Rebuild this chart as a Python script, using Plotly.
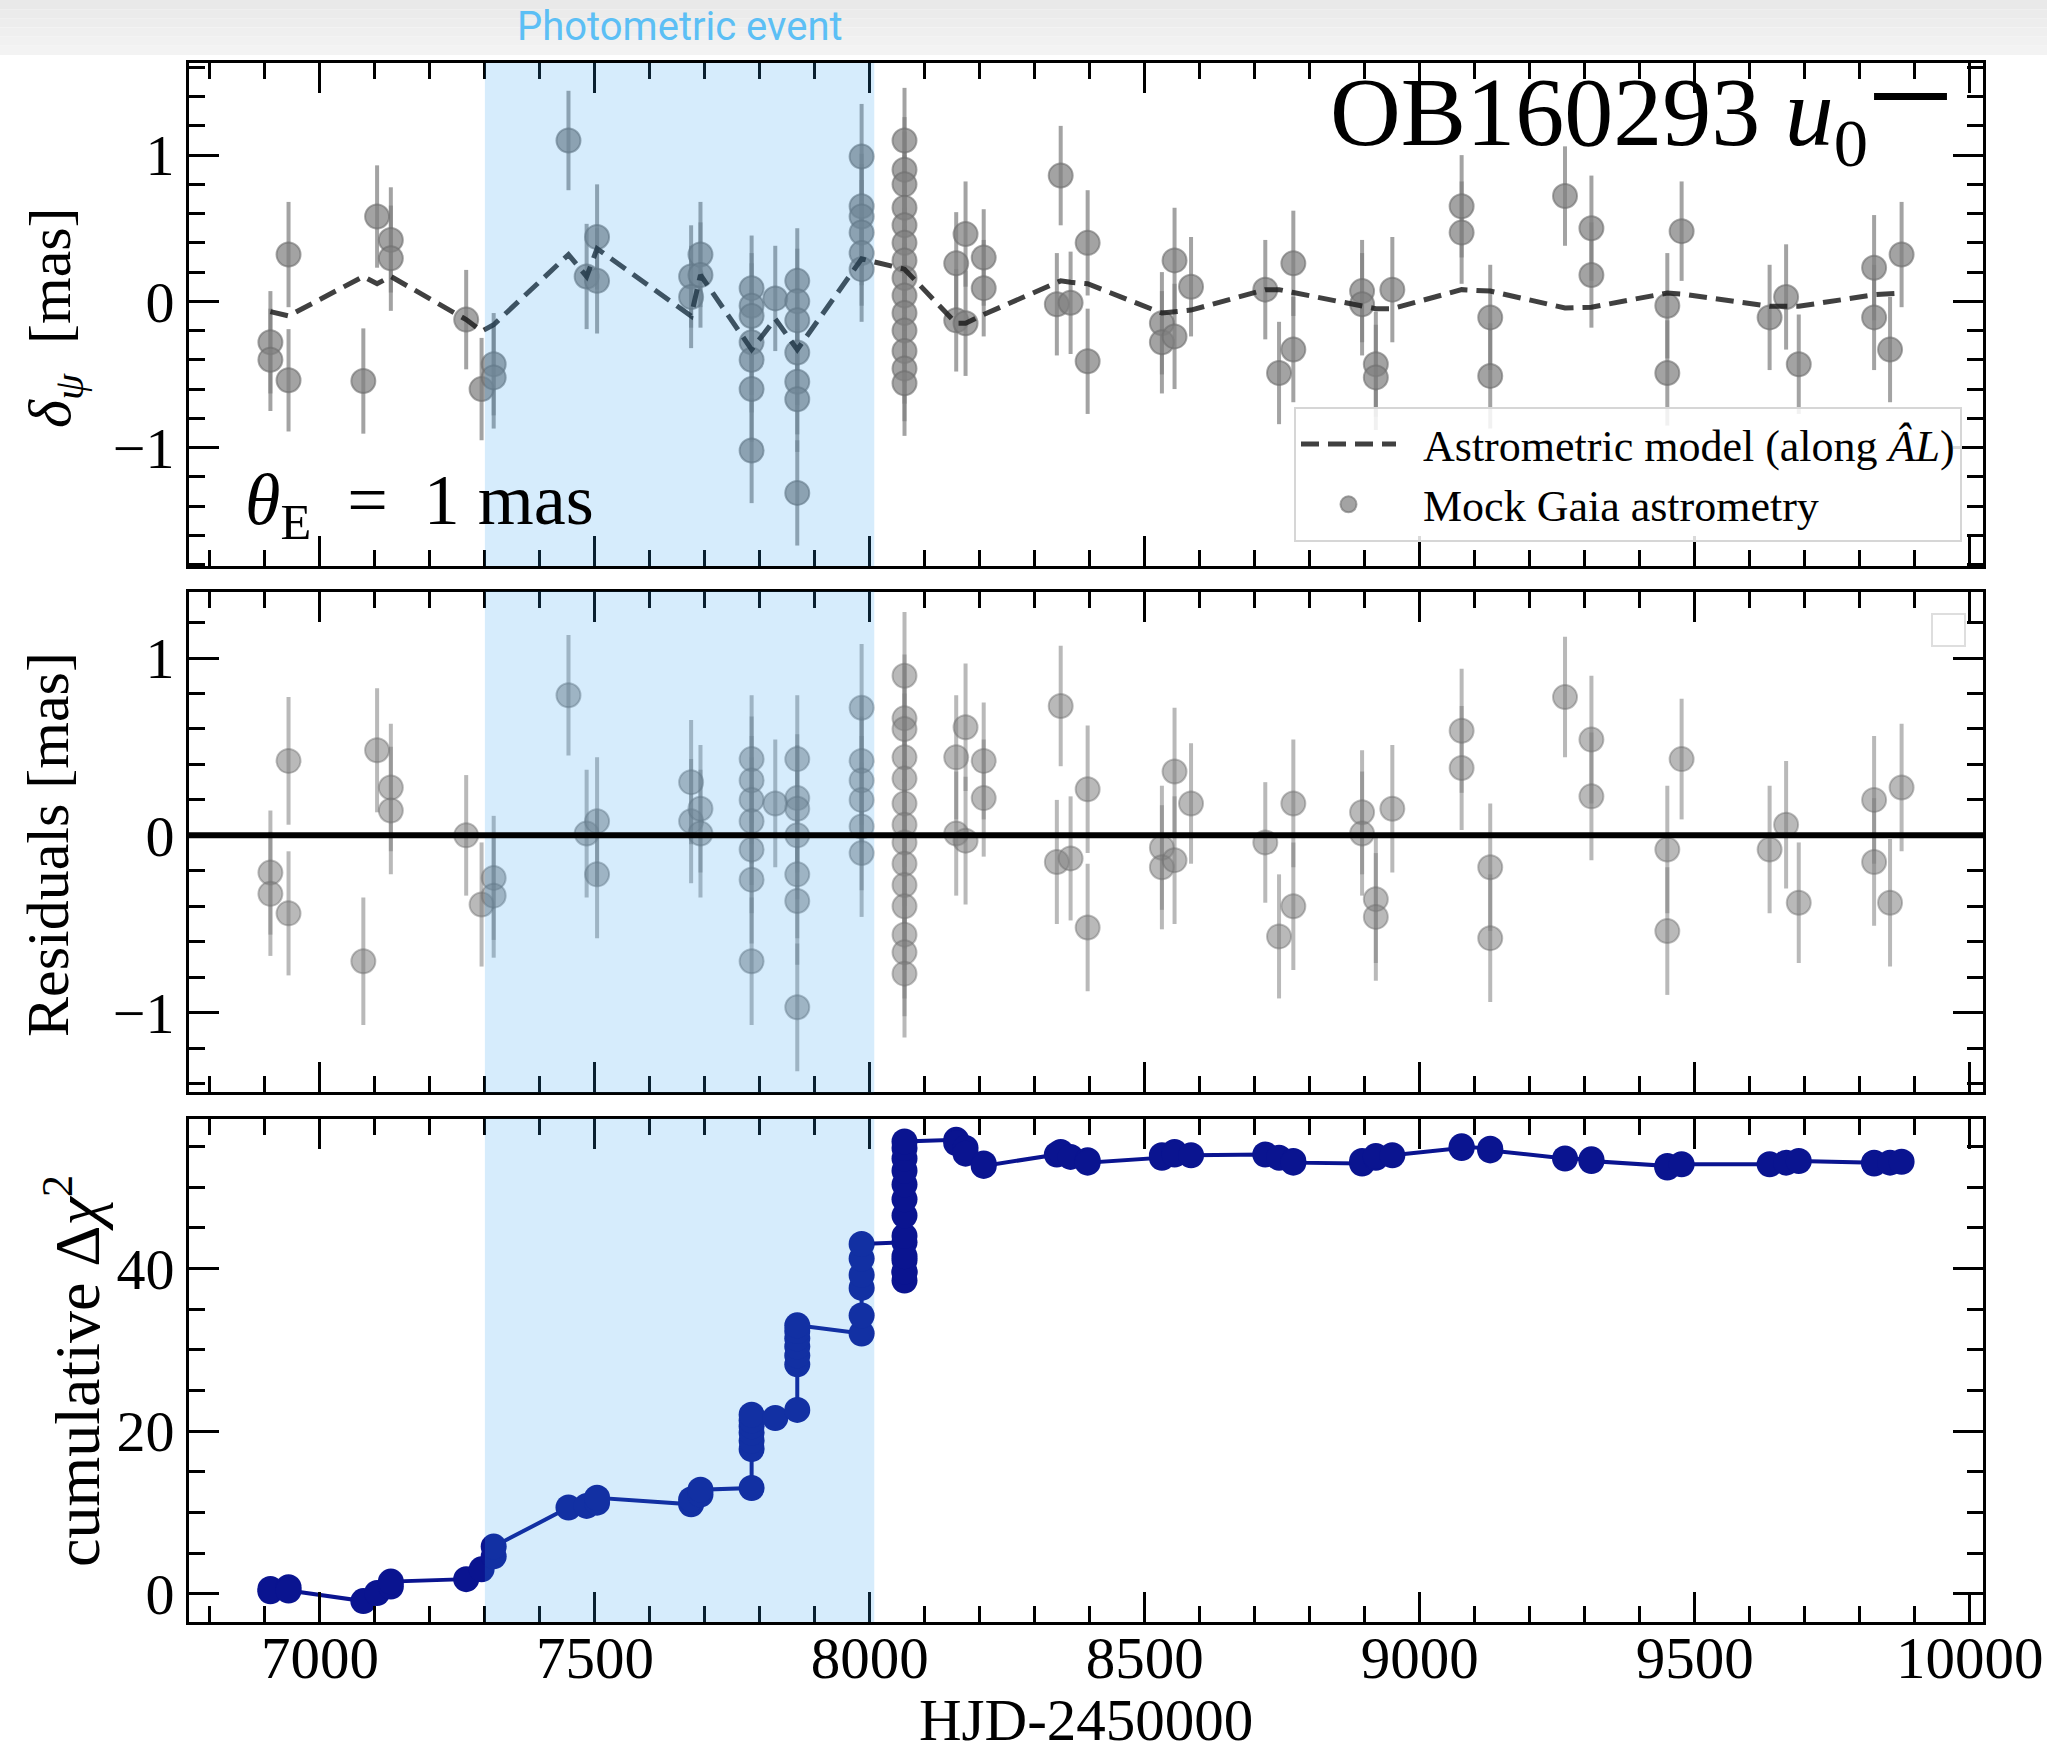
import plotly.graph_objects as go

# ---------------- data ----------------
t_obs = [6910, 6910, 6943, 6943, 7079, 7104, 7129, 7129, 7266, 7294, 7316, 7316,
         7452, 7485, 7504, 7504, 7675, 7675, 7692, 7692,
         7785, 7785, 7785, 7785, 7785, 7785, 7785,
         7828,
         7868, 7868, 7868, 7868, 7868, 7868, 7868,
         7985, 7985, 7985, 7985, 7985, 7985,
         8063, 8063, 8063, 8063, 8063, 8063, 8063, 8063, 8063, 8063, 8063, 8063, 8063, 8063,
         8157, 8157, 8174, 8174, 8207, 8207, 8340, 8347, 8365, 8396, 8396,
         8531, 8531, 8554, 8554, 8584, 8719, 8744, 8770, 8770,
         8895, 8895, 8920, 8920, 8950, 9076, 9076, 9128, 9128, 9264, 9312, 9312,
         9450, 9450, 9476, 9636, 9666, 9689, 9826, 9826, 9855, 9876]

delta_psi = [-0.28, -0.40, 0.32, -0.54, -0.545, 0.58, 0.42, 0.295, -0.125, -0.60, -0.43, -0.52,
             1.10, 0.17, 0.44, 0.14, 0.17, 0.03, 0.32, 0.18,
             0.09, -0.03, -0.10, -0.28, -0.40, -0.60, -1.02,
             0.02,
             0.14, 0.00, -0.13, -0.35, -0.55, -0.67, -1.31,
             0.99, 0.65, 0.58, 0.47, 0.33, 0.22,
             1.10, 0.90, 0.80, 0.64, 0.52, 0.40, 0.28, 0.16, 0.04, -0.08, -0.20, -0.34, -0.46, -0.56,
             0.26, -0.13, 0.46, -0.15, 0.30, 0.09, -0.02, 0.86, -0.01, 0.40, -0.41,
             -0.15, -0.28, 0.28, -0.24, 0.10, 0.08, -0.49, 0.26, -0.33,
             0.07, -0.02, -0.43, -0.52, 0.08, 0.65, 0.47, -0.11, -0.51, 0.72, 0.50, 0.18,
             -0.03, -0.49, 0.48, -0.11, 0.03, -0.43, 0.23, -0.11, -0.33, 0.32]

err_obs = [0.35, 0.35, 0.36, 0.35, 0.36, 0.35, 0.36, 0.36, 0.34, 0.35, 0.35, 0.35,
           0.34, 0.36, 0.36, 0.36, 0.35, 0.35, 0.36, 0.36,
           0.36, 0.36, 0.36, 0.36, 0.36, 0.36, 0.36,
           0.36,
           0.36, 0.36, 0.36, 0.36, 0.36, 0.36, 0.36,
           0.36, 0.36, 0.36, 0.36, 0.36, 0.36,
           0.36, 0.36, 0.36, 0.36, 0.36, 0.36, 0.36, 0.36, 0.36, 0.36, 0.36, 0.36, 0.36, 0.36,
           0.35, 0.35, 0.36, 0.36, 0.33, 0.33, 0.35, 0.34, 0.35, 0.36, 0.36,
           0.35, 0.35, 0.36, 0.36, 0.34, 0.34, 0.35, 0.36, 0.36,
           0.35, 0.35, 0.36, 0.36, 0.36, 0.35, 0.35, 0.36, 0.36, 0.34, 0.36, 0.36,
           0.36, 0.36, 0.34, 0.36, 0.36, 0.34, 0.36, 0.36, 0.36, 0.36]

resid = [-0.21, -0.33, 0.42, -0.44, -0.71, 0.48, 0.27, 0.14, 0.00, -0.39, -0.24, -0.34,
         0.79, 0.01, 0.08, -0.22, 0.30, 0.08, 0.15, 0.01,
         0.43, 0.31, 0.20, 0.08, -0.08, -0.25, -0.71,
         0.18,
         0.43, 0.21, 0.15, 0.00, -0.22, -0.37, -0.97,
         0.72, 0.42, 0.31, 0.20, 0.05, -0.10,
         0.90, 0.66, 0.60, 0.44, 0.32, 0.18, 0.06, -0.04, -0.16, -0.28, -0.40, -0.56, -0.66, -0.78,
         0.44, 0.01, 0.61, -0.03, 0.42, 0.21, -0.15, 0.73, -0.13, 0.26, -0.52,
         -0.07, -0.18, 0.36, -0.14, 0.18, -0.04, -0.57, 0.18, -0.40,
         0.13, 0.01, -0.36, -0.46, 0.15, 0.59, 0.38, -0.18, -0.58, 0.78, 0.54, 0.22,
         -0.08, -0.54, 0.43, -0.08, 0.06, -0.38, 0.20, -0.15, -0.38, 0.27]

cum_dchi2 = [0.3, 0.6, 0.8, 0.4, -0.9, 0.1, 0.9, 1.5, 1.8, 3.0, 4.6, 5.8,
             10.6, 10.8, 11.2, 11.8, 11.0, 11.6, 12.2, 12.8,
             13.0, 17.8, 18.8, 19.8, 20.6, 21.3, 22.0,
             21.6,
             22.6, 28.2, 29.3, 30.4, 31.4, 32.3, 33.0,
             32.0, 34.2, 37.6, 39.2, 41.2, 43.0,
             43.2, 41.0, 39.5, 38.5, 39.6, 41.5, 44.0, 46.5, 48.5, 50.3, 52.0, 53.5, 54.8, 55.6,
             55.8, 55.4, 54.8, 54.1, 52.9, 52.6, 54.0, 54.3, 53.7, 53.3, 53.0,
             53.6, 53.9, 54.3, 54.0, 53.9, 54.0, 53.6, 53.2, 53.0,
             52.9, 53.2, 53.6, 53.8, 53.9, 54.8, 55.0, 54.7, 54.5, 53.5, 53.4, 53.2,
             52.6, 52.4, 52.8, 52.8, 53.0, 53.2, 53.0, 52.9, 53.0, 53.1]

model_t = [6910, 6943, 7079, 7104, 7129, 7266, 7294, 7316, 7452, 7485, 7504, 7675, 7692,
           7785, 7828, 7868, 7985, 8063, 8157, 8174, 8207, 8340, 8347, 8365, 8396,
           8531, 8554, 8584, 8719, 8744, 8770, 8895, 8920, 8950, 9076, 9128, 9264, 9312,
           9450, 9476, 9636, 9666, 9689, 9826, 9855, 9876]
model_y = [-0.07, -0.10, 0.17, 0.12, 0.17, -0.125, -0.205, -0.16, 0.32, 0.17, 0.36, -0.10, 0.18,
           -0.33, -0.12, -0.33, 0.29, 0.22, -0.15, -0.15, -0.09, 0.13, 0.14, 0.13, 0.12,
           -0.08, -0.07, -0.06, 0.08, 0.08, 0.06, -0.03, -0.05, -0.05, 0.08, 0.07, -0.045, -0.04,
           0.057, 0.05, -0.034, -0.034, -0.034, 0.045, 0.05, 0.057]

event_start, event_end = 7300, 8008
x_range = [6762, 10024]
x_ticks = [7000, 7500, 8000, 8500, 9000, 9500, 10000]

# ---------------- layout geometry ----------------
W, H = 2047, 1753
ML, MR, MT, MB = 189, 64, 63, 131
PW = W - ML - MR
PH = H - MT - MB


def px(x):
    return (x - ML) / PW


def py(y):
    return (H - MB - y) / PH


FONT = "Liberation Serif, DejaVu Serif, serif"
GREY_TOP = "rgba(128,128,128,0.72)"
GREY_RES = "rgba(128,128,128,0.55)"
NAVY = "#0a1490"
NB = "\u00a0"
EN = "\u2002"

fig = go.Figure()

# top panel: data with error bars
fig.add_trace(go.Scatter(
    x=t_obs, y=delta_psi, mode="markers", name=NB * 2 + "Mock Gaia astrometry",
    marker=dict(size=24, color=GREY_TOP, line=dict(width=2, color="rgba(110,110,110,0.6)")),
    error_y=dict(type="data", array=err_obs, visible=True, thickness=4, width=0, color=GREY_TOP),
    xaxis="x", yaxis="y", legendrank=2))
# model line
fig.add_trace(go.Scatter(
    x=model_t, y=model_y, mode="lines", name=NB * 2 + "Astrometric model (along <i>ÂL</i>)",
    line=dict(color="rgba(30,30,30,0.85)", width=5, dash="18px,9px"),
    xaxis="x", yaxis="y", legendrank=1))

# middle panel: residuals
fig.add_trace(go.Scatter(
    x=t_obs, y=resid, mode="markers", showlegend=False,
    marker=dict(size=24, color=GREY_RES, line=dict(width=2, color="rgba(110,110,110,0.45)")),
    error_y=dict(type="data", array=err_obs, visible=True, thickness=4, width=0, color=GREY_RES),
    xaxis="x2", yaxis="y2"))

# bottom panel: cumulative delta chi2
fig.add_trace(go.Scatter(
    x=t_obs, y=cum_dchi2, mode="lines+markers", showlegend=False,
    line=dict(color=NAVY, width=4), marker=dict(size=26, color=NAVY),
    xaxis="x3", yaxis="y3"))


def xax(show_labels, anchor):
    d = dict(range=x_range, anchor=anchor, domain=[0, 1], showline=True, linewidth=3,
             linecolor="black", mirror="ticks", ticks="inside", ticklen=30, tickwidth=3,
             tickcolor="black", tickmode="array", tickvals=x_ticks,
             ticktext=[str(v) for v in x_ticks], showticklabels=show_labels,
             minor=dict(ticks="inside", ticklen=16, tickwidth=2.5, dtick=100, tickcolor="black"),
             showgrid=False, zeroline=False, automargin=False,
             tickfont=dict(size=59, family=FONT, color="black"))
    if show_labels:
        d["ticklabelstandoff"] = -18
    return d


def yax(rng, dom, anchor, dtick, mdtick):
    return dict(range=rng, domain=dom, anchor=anchor, showline=True, linewidth=3,
                linecolor="black", mirror="ticks", ticks="inside", ticklen=30, tickwidth=3,
                tickcolor="black", dtick=dtick, tick0=0, automargin=False,
                minor=dict(ticks="inside", ticklen=16, tickwidth=2.5, dtick=mdtick, tickcolor="black"),
                showgrid=False, zeroline=False, tickfont=dict(size=58, family=FONT, color="black"))


dom_top = [py(566), 1.0]
dom_mid = [py(1092.4), py(591.6)]
dom_bot = [0.0, py(1118.7)]

shapes = []
# header band (gradient stripes)
band_cols = ["#e9e9e9", "#ebebeb", "#ededed", "#efefef", "#f1f1f1", "#f3f3f3"]
for i, c in enumerate(band_cols):
    y0 = i * 55 / len(band_cols)
    y1 = (i + 1) * 55 / len(band_cols)
    shapes.append(dict(type="rect", xref="paper", yref="paper", x0=px(0), x1=px(W),
                       y0=py(y1), y1=py(y0), fillcolor=c, line=dict(width=0), layer="below"))
# photometric event shading (overlay on top of data)
for xr, yr in [("x", "y"), ("x2", "y2"), ("x3", "y3")]:
    shapes.append(dict(type="rect", xref=xr, yref=yr + " domain", x0=event_start, x1=event_end,
                       y0=0, y1=1, fillcolor="rgba(50,160,240,0.2)", line=dict(width=0), layer="above"))
# zero line in residual panel
shapes.append(dict(type="line", xref="x2 domain", yref="y2", x0=0, x1=1, y0=0, y1=0,
                   line=dict(color="black", width=6), layer="above"))
# empty legend box in residual panel
shapes.append(dict(type="rect", xref="paper", yref="paper", x0=px(1932), x1=px(1965),
                   y0=py(646), y1=py(614), line=dict(color="#dedede", width=2),
                   fillcolor="rgba(255,255,255,0.6)"))

annotations = [
    dict(text="Photometric event", xref="paper", yref="paper", x=px(680), y=py(27),
         xanchor="center", yanchor="middle", showarrow=False,
         font=dict(size=40, family="Liberation Sans Narrow, Roboto, sans-serif", color="#5cbff5")),
    dict(text="OB160293 <i>u</i><sub>0</sub>", xref="paper", yref="paper", x=px(1870), y=py(120),
         xanchor="right", yanchor="middle", showarrow=False,
         font=dict(size=98, family=FONT, color="black")),
    dict(text="–", xref="paper", yref="paper", x=px(1872), y=py(82),
         xanchor="left", yanchor="middle", showarrow=False,
         font=dict(size=142, family=FONT, color="black")),
    dict(text="<i>θ</i><sub>E</sub>" + EN + "=" + EN + "1" + NB + "mas", xref="paper", yref="paper",
         x=px(243), y=py(505), xanchor="left", yanchor="middle", showarrow=False,
         font=dict(size=72, family=FONT, color="black")),
    dict(text="<i>δ</i><sub><i>ψ</i></sub>" + NB * 2 + "[mas]", xref="paper", yref="paper",
         x=px(55), y=py(318), xanchor="center", yanchor="middle", textangle=-90, showarrow=False,
         font=dict(size=60, family=FONT, color="black")),
    dict(text="Residuals [mas]", xref="paper", yref="paper", x=px(48), y=py(845),
         xanchor="center", yanchor="middle", textangle=-90, showarrow=False,
         font=dict(size=60, family=FONT, color="black")),
    dict(text="cumulative Δ<i>χ</i><sup>2</sup>", xref="paper", yref="paper", x=px(72), y=py(1371),
         xanchor="center", yanchor="middle", textangle=-90, showarrow=False,
         font=dict(size=64, family=FONT, color="black")),
    dict(text="HJD-2450000", xref="paper", yref="paper", x=px(1086), y=py(1720),
         xanchor="center", yanchor="middle", showarrow=False,
         font=dict(size=59, family=FONT, color="black")),
]

fig.update_layout(
    width=W, height=H, margin=dict(l=ML, r=MR, t=MT, b=MB, pad=0, autoexpand=False),
    paper_bgcolor="white", plot_bgcolor="white",
    font=dict(family=FONT, color="black"),
    xaxis=xax(False, "y"), xaxis2=xax(False, "y2"), xaxis3=xax(True, "y3"),
    yaxis=yax([-1.81, 1.63], dom_top, "x", 1, 0.2),
    yaxis2=yax([-1.45, 1.375], dom_mid, "x2", 1, 0.2),
    yaxis3=yax([-3.47, 58.4], dom_bot, "x3", 20, 5),
    shapes=shapes, annotations=annotations,
    legend=dict(x=px(1962), xanchor="right", y=py(542), yanchor="bottom",
                bgcolor="rgba(255,255,255,0.85)", bordercolor="#d6d6d6", borderwidth=2,
                font=dict(size=44, family=FONT, color="black"), itemwidth=95,
                tracegroupgap=4),
    showlegend=True,
)

fig.write_html("out.html")
